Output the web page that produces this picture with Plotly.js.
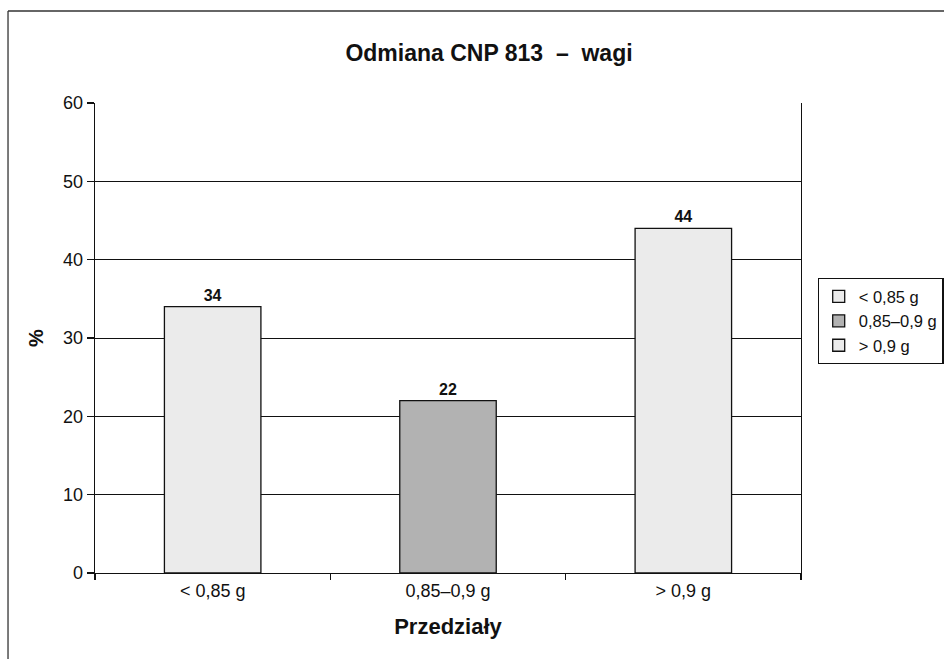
<!DOCTYPE html>
<html>
<head>
<meta charset="utf-8">
<script src="https://cdn.plot.ly/plotly-3.0.1.min.js"></script>
<style>html,body{margin:0;padding:0;background:#fff;}#chart{width:944px;height:659px;}</style>
</head>
<body>
<div id="chart"></div>
<script>
const categories = ['< 0,85 g', '0,85–0,9 g', '> 0,9 g'];
const values = [34, 22, 44];
const barColors = ['#ebebeb', '#b2b2b2', '#ebebeb'];
const yTicks = [0, 10, 20, 30, 40, 50, 60];

const FONT = 'Liberation Sans, Arial, sans-serif';

const traces = categories.map((c, i) => ({
  type: 'bar',
  name: c,
  x: [c],
  y: [values[i]],
  width: 0.41,
  marker: {color: barColors[i], line: {color: '#111', width: 1.3}},
  text: [String(values[i])],
  textposition: 'outside',
  cliponaxis: false,
  textfont: {family: FONT, size: 16, color: '#111', weight: 'bold'},
  hoverinfo: 'x+y'
}));

const layout = {
  width: 944, height: 659,
  margin: {l: 95, r: 143, t: 103, b: 86, autoexpand: false},
  paper_bgcolor: '#fff', plot_bgcolor: '#fff',
  barmode: 'overlay',
  font: {family: FONT, color: '#111'},
  title: {
    text: '<b>Odmiana CNP 813  –  wagi</b>',
    font: {family: FONT, size: 23, color: '#111'},
    xref: 'container', x: 0.518, xanchor: 'center',
    yref: 'container', y: 0.92, yanchor: 'middle'
  },
  xaxis: {
    type: 'category',
    categoryorder: 'array', categoryarray: categories,
    showline: true, linecolor: '#111', linewidth: 1.3,
    mirror: false,
    ticks: 'outside', ticklen: 6, tickcolor: '#111', tickwidth: 1.3,
    tickson: 'boundaries',
    ticklabelstandoff: 1,
    showgrid: false,
    tickfont: {family: FONT, size: 18, color: '#111'},
    title: {text: '<b>Przedziały</b>', font: {family: FONT, size: 22, color: '#111'}, standoff: 18},
    fixedrange: true
  },
  yaxis: {
    range: [0, 60],
    tickvals: yTicks,
    showline: true, linecolor: '#111', linewidth: 1.3, mirror: true,
    ticks: 'outside', ticklen: 7, tickcolor: '#111', tickwidth: 1.3,
    showgrid: true, gridcolor: '#111', gridwidth: 1,
    zeroline: false,
    tickfont: {family: FONT, size: 18, color: '#111'},
    title: {text: '<b>%</b>', font: {family: FONT, size: 20, color: '#111'}, standoff: 14},
    fixedrange: true
  },
  showlegend: true,
  legend: {
    xref: 'container', yref: 'container',
    x: 0.866, xanchor: 'left', y: 0.513, yanchor: 'middle',
    bordercolor: '#111', borderwidth: 1.2, bgcolor: '#fff',
    font: {family: FONT, size: 16.5, color: '#111'},
    itemwidth: 30, tracegroupgap: 0,
    traceorder: 'normal'
  },
  shapes: [
    {type: 'line', xref: 'paper', yref: 'paper', x0: -0.1232, x1: -0.1232, y0: -0.3, y1: 1.1957, line: {color: '#333', width: 1.3}},
    {type: 'line', xref: 'paper', yref: 'paper', x0: -0.1232, x1: 1.3, y0: 1.1957, y1: 1.1957, line: {color: '#333', width: 1.3}}
  ]
};

Plotly.newPlot('chart', traces, layout, {displayModeBar: false, staticPlot: true});
</script>
</body>
</html>
